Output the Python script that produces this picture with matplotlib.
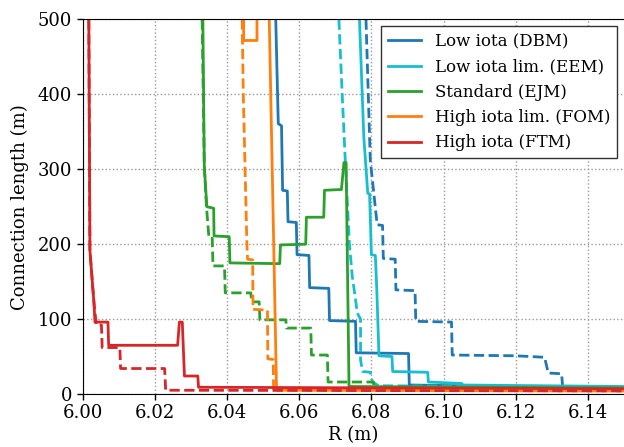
import matplotlib
matplotlib.use("Agg")
import matplotlib.pyplot as plt

plt.rcParams["font.family"] = ["DejaVu Serif"]
plt.rcParams["font.size"] = 13

# Connection length profiles along R for each configuration.
# Solid: first field-line set, dashed: second field-line set.
dbm_r = [6.0535, 6.0539, 6.0542, 6.0551, 6.0554, 6.0567, 6.0569, 6.0592, 6.0594,
         6.0627, 6.0629, 6.0682, 6.0684, 6.0756, 6.0758, 6.0903, 6.0905, 6.1200, 6.1500]
dbm_l = [500, 420, 361, 358, 272, 271, 230, 229, 186, 185, 142, 141, 98, 97, 55, 54, 12, 10, 9]
dbm_r2 = [6.0785, 6.0797, 6.0816, 6.0831, 6.0833, 6.0866, 6.0868, 6.0921, 6.0923,
          6.1022, 6.1024, 6.1200, 6.1280, 6.1290, 6.1327, 6.1330, 6.1500]
dbm_l2 = [500, 312, 226, 225, 181, 180, 139, 138, 97, 96, 52, 51, 49, 28, 27, 10, 9]

eem_r = [6.0767, 6.0779, 6.0790, 6.0795, 6.0800, 6.0811, 6.0815, 6.0821, 6.0857,
         6.0859, 6.0956, 6.0958, 6.1051, 6.1053, 6.1500]
eem_l = [500, 343, 268, 267, 186, 185, 139, 51, 50, 30, 29, 16, 14, 12, 10]
eem_r2 = [6.0710, 6.0719, 6.0728, 6.0739, 6.0747, 6.0755, 6.0761, 6.0770, 6.0770,
          6.0776, 6.0797, 6.0803, 6.0820, 6.1500]
eem_l2 = [500, 401, 308, 201, 157, 130, 108, 100, 45, 30, 29, 16, 11, 9]

ejm_r = [6.0333, 6.0335, 6.0337, 6.0344, 6.0363, 6.0364, 6.0406, 6.0408, 6.0546,
         6.0548, 6.0618, 6.0620, 6.0668, 6.0670, 6.0717, 6.0724, 6.0730, 6.0738, 6.1500]
ejm_l = [500, 401, 304, 250, 248, 211, 210, 175, 174, 199, 200, 236, 236, 272, 273,
         309, 309, 10, 8]
ejm_r2 = [6.0331, 6.0334, 6.0337, 6.0343, 6.0350, 6.0359, 6.0361, 6.0393, 6.0395,
          6.0466, 6.0468, 6.0489, 6.0491, 6.0563, 6.0565, 6.0632, 6.0634, 6.0678,
          6.0680, 6.0806, 6.0808, 6.1500]
ejm_l2 = [500, 401, 304, 250, 208, 208, 171, 171, 135, 135, 123, 123, 99, 99, 88, 88,
          52, 52, 16, 16, 6, 5]

fom_r = [6.0446, 6.0446, 6.0483, 6.0483, 6.0517, 6.0530, 6.0537, 6.0540, 6.1500]
fom_l = [520, 472, 472, 520, 500, 183, 10, 7, 6]
fom_r2 = [6.0442, 6.0445, 6.0450, 6.0455, 6.0457, 6.0471, 6.0472, 6.0512, 6.0513,
          6.0528, 6.0529, 6.1500]
fom_l2 = [500, 400, 300, 200, 180, 179, 113, 112, 47, 46, 5, 4]

ftm_r = [6.0017, 6.0019, 6.0020, 6.0027, 6.0031, 6.0034, 6.0070, 6.0072, 6.0263,
         6.0268, 6.0276, 6.0282, 6.0319, 6.0321, 6.1500]
ftm_l = [500, 300, 192, 148, 123, 96, 96, 65, 65, 96, 96, 24, 24, 9, 7]
ftm_r2 = [6.0017, 6.0019, 6.0020, 6.0027, 6.0032, 6.0038, 6.0052, 6.0054, 6.0103,
          6.0105, 6.0227, 6.0230, 6.1500]
ftm_l2 = [500, 300, 192, 148, 118, 92, 92, 62, 62, 34, 34, 5, 4]

labels = ["Low iota (DBM)", "Low iota lim. (EEM)", "Standard (EJM)",
          "High iota lim. (FOM)", "High iota (FTM)"]
colors = ["#1f77b4", "#17becf", "#2ca02c", "#ff7f0e", "#d62728"]
solid = [(dbm_r, dbm_l), (eem_r, eem_l), (ejm_r, ejm_l), (fom_r, fom_l), (ftm_r, ftm_l)]
dashed = [(dbm_r2, dbm_l2), (eem_r2, eem_l2), (ejm_r2, ejm_l2), (fom_r2, fom_l2),
          (ftm_r2, ftm_l2)]

fig = plt.figure(figsize=(6.24, 4.47), dpi=100)
ax = fig.add_axes([0.1325, 0.1186, 0.8675, 0.8378])

for (r, l), (r2, l2), lab, c in zip(solid, dashed, labels, colors):
    ax.plot(r, l, color=c, lw=2, label=lab)
    ax.plot(r2, l2, color=c, lw=2, ls="--")

ax.set_xlim(6.00, 6.15)
ax.set_ylim(0, 500)
ax.set_xticks([6.00, 6.02, 6.04, 6.06, 6.08, 6.10, 6.12, 6.14])
ax.set_yticks([0, 100, 200, 300, 400, 500])
ax.xaxis.set_major_formatter(matplotlib.ticker.FormatStrFormatter("%.2f"))
ax.grid(True, color="#999999", ls=":", lw=1)
ax.spines["right"].set_visible(False)
ax.tick_params(direction="out", top=False, right=False, length=4, width=1)
ax.set_xlabel("R (m)", labelpad=3)
ax.set_ylabel("Connection length (m)", labelpad=6)

leg = ax.legend(loc="upper right", fancybox=False, framealpha=1, fontsize=12,
                edgecolor="#333333", borderaxespad=0.42)
leg.get_frame().set_linewidth(1.0)

fig.savefig("out.png", dpi=100)
